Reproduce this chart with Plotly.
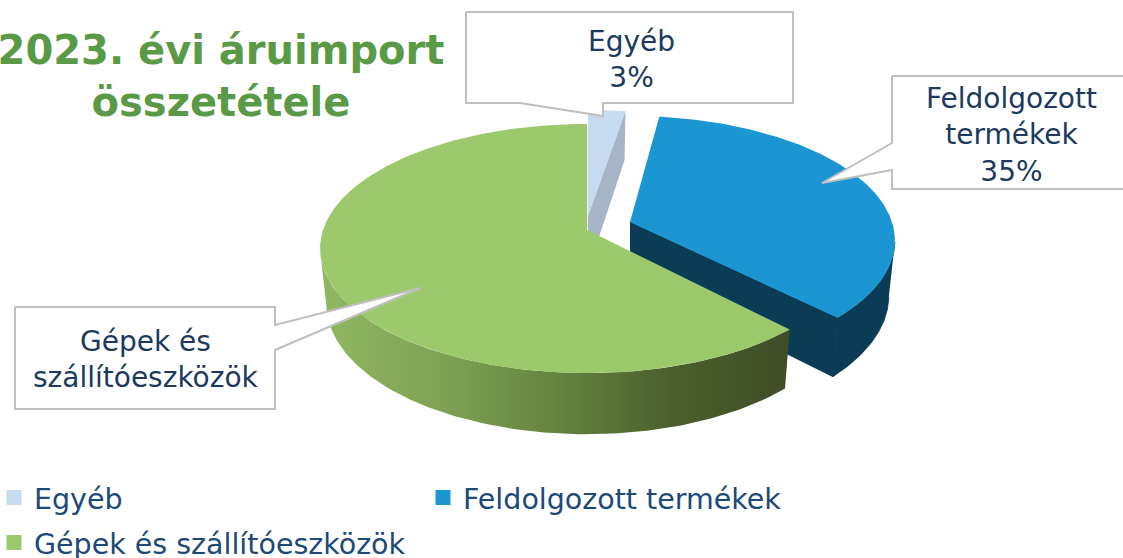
import numpy as np
import plotly.graph_objects as go

# --- data ---
categories = ["Egyéb", "Feldolgozott termékek", "Gépek és szállítóeszközök"]
values = [2.6, 35.4, 62.0]
callout_texts = ["Egyéb<br>3%", "Feldolgozott<br>termékek<br>35%", "Gépek és<br>szállítóeszközök"]
title_text = "2023. évi áruimport<br>összetétele"

top_colors = ["#C6DAF0", "#1C96D3", "#9BC96B"]
cut_colors = ["#A6B4C6", "#0A3C55", "#3F4D26"]

# --- projection of the tilted pie ---
r, k = 121.8, 0.1486
radii = [264.0, 262.0, 264.0]
centres = [(588.0, 216.0), (630.0, 222.0), (587.0, 230.0)]
turn_deg = [0.0, -2.0, 0.0]
widest = np.arccos(-k)  # angle at which the top rim is widest on the page


def project(theta, c, R):
    u, v = np.sin(theta), -np.cos(theta)
    s = 1 / (1 - k * v)
    return c[0] + R * u * s, c[1] + r * v * s


def drop(x, y, c):
    return c[0] + (x - c[0]) * 0.977, y + 54 + 0.05 * (y - c[1])


cum = np.cumsum([0] + values) / sum(values) * 2 * np.pi
fig = go.Figure()


def poly(xs, ys, color, edge=0.0):
    fig.add_trace(go.Scatter(x=list(xs), y=list(ys), mode="lines", fill="toself", fillcolor=color,
                             line=dict(width=edge, color=color), hoverinfo="skip", showlegend=False))


for i in range(3):
    c = centres[i]
    a0, a1 = cum[i] + np.radians(turn_deg[i]), cum[i + 1] + np.radians(turn_deg[i])
    th = np.linspace(a0, a1, 240)
    tx, ty = project(th, c, radii[i])
    bx, by = drop(tx, ty, c)
    acx, acy = drop(np.array([c[0]]), np.array([c[1]]), c)
    if i == 0:
        # right-hand cut face
        poly([c[0], tx[-1], bx[-1], acx[0]], [c[1], ty[-1], by[-1], acy[0]], cut_colors[i])
    if i == 1:
        poly([c[0], tx[-1], bx[-1], acx[0]], [c[1], ty[-1], by[-1], acy[0]], cut_colors[i], edge=0.8)
        mask = th >= widest
        poly(np.r_[tx[mask], bx[mask][::-1]], np.r_[ty[mask], by[mask][::-1]], cut_colors[i], edge=0.8)
    if i == 2:
        mask = th <= 2 * np.pi - widest
        fig.add_trace(go.Scatter(
            x=np.r_[tx[mask], bx[mask][::-1]], y=np.r_[ty[mask], by[mask][::-1]],
            mode="lines", fill="toself", line=dict(width=0), hoverinfo="skip", showlegend=False,
            fillgradient=dict(type="horizontal",
                              colorscale=[[0, "#90B863"], [0.25, "#7FA355"], [0.5, "#65843F"],
                                          [0.75, "#4B5F2D"], [1, "#3F4D26"]])))
    poly(np.r_[c[0], tx, c[0]], np.r_[c[1], ty, c[1]], top_colors[i])

# --- callouts ---
callouts = [
    ([466, 793, 793, 603, 603, 520, 466, 466], [12, 12, 103, 103, 116, 103, 103, 12]),
    ([892, 1135, 1135, 892, 892, 822, 892, 892], [76, 76, 189, 189, 170, 183, 143, 76]),
    ([15, 275, 275, 420, 275, 275, 15, 15], [307, 307, 325, 288, 350, 409, 409, 307]),
]
text_pos = [(631, 59), (1011, 135), (146, 359)]
for (xs, ys), (tx_, ty_), t in zip(callouts, text_pos, callout_texts):
    fig.add_trace(go.Scatter(x=xs, y=ys, mode="lines", fill="toself", fillcolor="white",
                             line=dict(color="#BFBFBF", width=2), hoverinfo="skip", showlegend=False))
    fig.add_annotation(x=tx_, y=ty_, text=t, showarrow=False, xanchor="center", yanchor="middle",
                       font=dict(family="DejaVu Sans", size=28, color="#1B3A5E"))

# --- legend: one legend box per entry, so the rows can sit where the reference has them ---
legend_ids = ["legend", "legend2", "legend3"]
legend_pos = [(-6, 498), (423, 498), (-6, 543)]
for name, col, lid in zip(categories, top_colors, legend_ids):
    fig.add_trace(go.Scatter(x=[None], y=[None], mode="markers", name=name, legend=lid, showlegend=True,
                             marker=dict(symbol="square", size=15, color=col)))

legend_layout = {
    lid: dict(x=px / 1123, xanchor="left", y=1 - py / 558, yanchor="middle", itemwidth=30,
              font=dict(family="DejaVu Sans", size=28.5, color="#1B4A78"), bgcolor="rgba(0,0,0,0)")
    for lid, (px, py) in zip(legend_ids, legend_pos)
}

fig.update_layout(
    width=1123, height=558, margin=dict(l=0, r=0, t=0, b=0, autoexpand=False),
    paper_bgcolor="white", plot_bgcolor="white",
    xaxis=dict(range=[0, 1123], visible=False, fixedrange=True),
    yaxis=dict(range=[558, 0], visible=False, fixedrange=True),
    title=dict(text=title_text, x=221 / 1123, xanchor="center", y=0.885, yanchor="top",
               font=dict(family="DejaVu Sans", size=40, color="#5A9A46", weight="bold")),
    **legend_layout,
)
fig.write_html("out.html", config=dict(displayModeBar=False),
               post_script="document.body.style.margin='0';document.body.style.overflow='hidden';")
